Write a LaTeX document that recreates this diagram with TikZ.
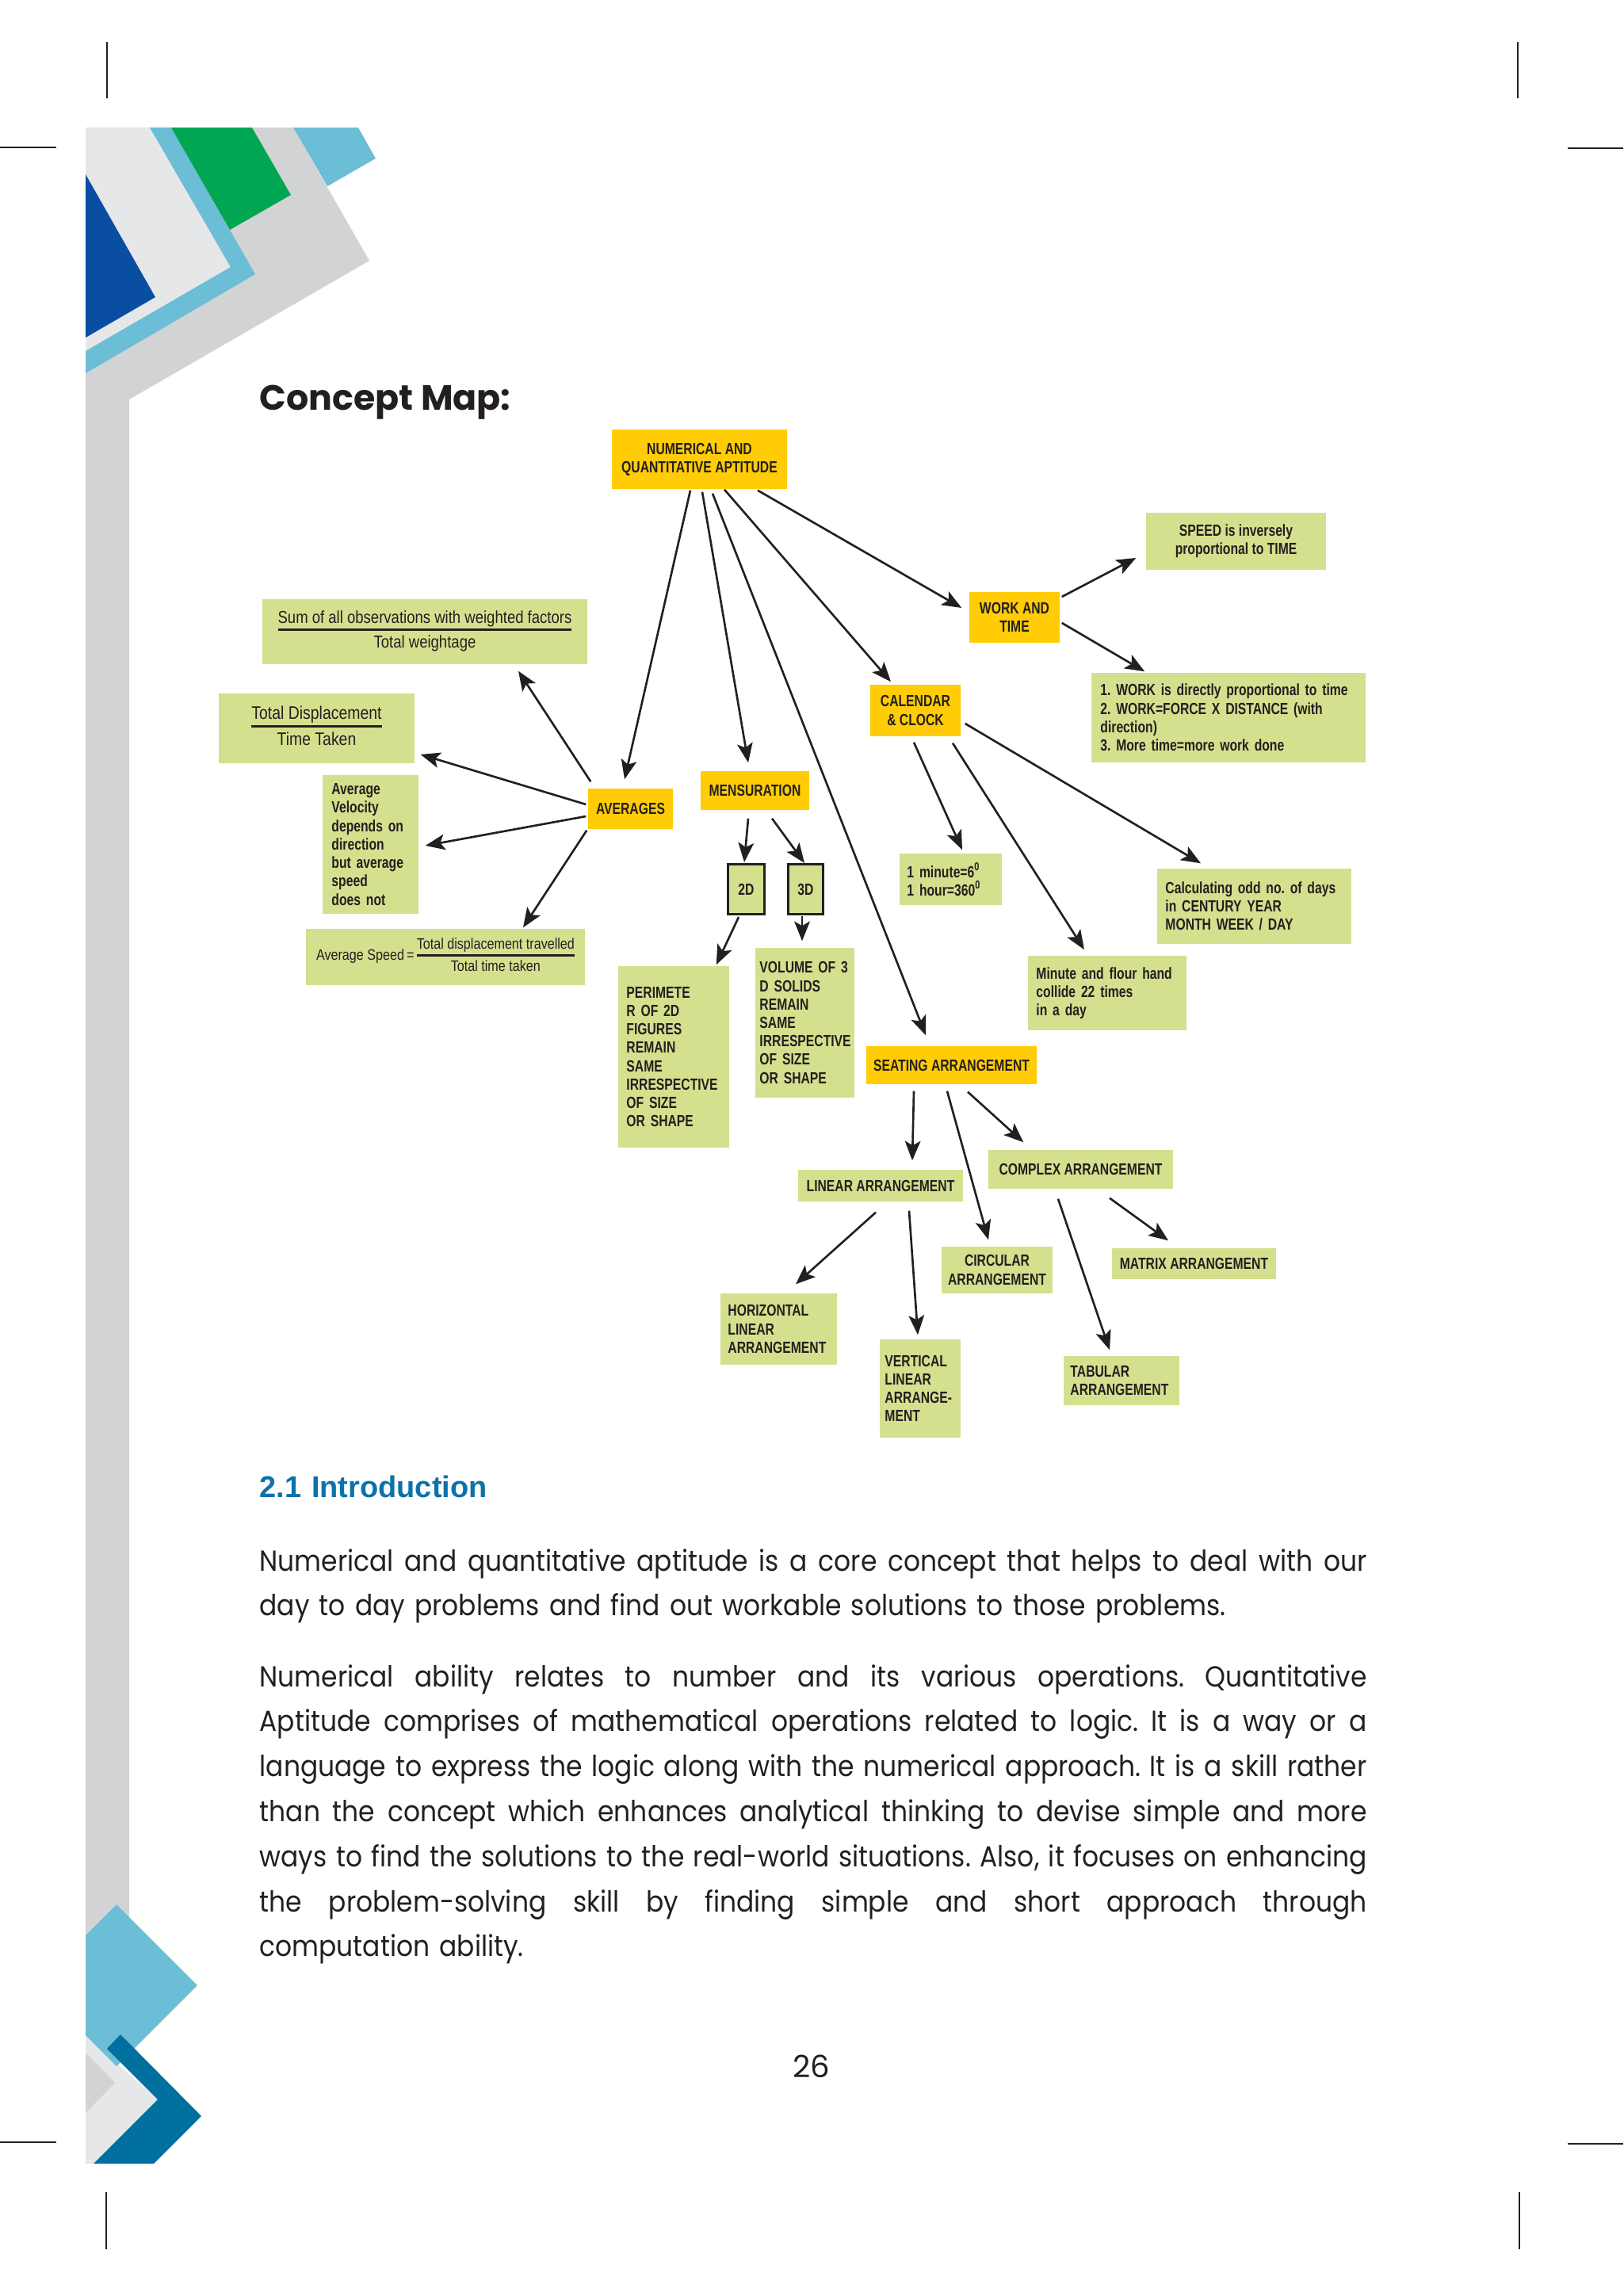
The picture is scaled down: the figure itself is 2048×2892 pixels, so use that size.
\documentclass[tikz,border=0pt]{standalone}
\usepackage{fontspec}
\setmainfont{Poppins}
\newfontfamily\condb[FakeStretch=0.77]{Liberation Sans}
\newfontfamily\condr[FakeStretch=0.85]{Liberation Sans}
\newfontfamily\bodyfont[FakeStretch=0.9]{Poppins}
\newfontfamily\headfont{Liberation Sans}
\usetikzlibrary{arrows.meta, calc}
\frenchspacing

\definecolor{ink}{HTML}{231F20}
\definecolor{mapyellow}{HTML}{FFCC05}
\definecolor{mapgreen}{HTML}{D5E08E}
\definecolor{headblue}{HTML}{0B72AA}
\definecolor{decogray}{HTML}{D1D3D4}
\definecolor{decolight}{HTML}{E6E7E8}
\definecolor{decosky}{HTML}{6CBDD6}
\definecolor{decogreen}{HTML}{00A652}
\definecolor{decoblue}{HTML}{0A4EA2}
\definecolor{decoteal}{HTML}{00709F}

% fraction with a bar, as in the formula boxes
\newcommand{\mapfrac}[2]{{\setlength{\arrayrulewidth}{0.6pt}\begin{tabular}{@{}c@{}}#1\\\hline\rule{0pt}{1.02em}#2\end{tabular}}}
% a justified line of the body text
\newcommand{\fullline}[1]{{\spaceskip=0pt\xspaceskip=0pt\makebox[13.96cm][s]{#1}}}

\begin{document}
\begin{tikzpicture}[x=0.01cm, y=-0.01cm,
    ybox/.style={fill=mapyellow, text=ink, inner sep=0pt, align=center, font=\condb\bfseries\fontsize{5.8}{6.6}\selectfont},
    gbox/.style={fill=mapgreen, text=ink, inner sep=0pt, align=center, font=\condb\bfseries\fontsize{5.8}{6.6}\selectfont},
    lbox/.style={gbox, align=left},
    arr/.style={-{Stealth[length=7pt, width=5.6pt, inset=1.6pt]}, line width=0.75pt, draw=ink}]
    \useasboundingbox (0,0) rectangle (2048,2892);

    % crop marks
    \draw[ink, line width=0.5pt] (135,53) -- (135,124) (0,186) -- (71,186)
        (1915,53) -- (1915,124) (1978,187) -- (2048,187)
        (0,2703) -- (71,2703) (134,2766) -- (134,2838)
        (1978,2705) -- (2048,2705) (1917,2766) -- (1917,2838);

    % page decoration, top left
    \fill[decogray] (108,161) -- (370,161) -- (466,329) -- (163,504) -- (163,2505) -- (108,2505) -- cycle;
    \fill[decolight] (108,161) -- (189,161) -- (291,337) -- (108,443) -- cycle;
    \fill[decoblue] (108,220) -- (196,375) -- (108,426) -- cycle;
    \fill[decosky] (189,161) -- (216,161) -- (322,346) -- (108,471) -- (108,443) -- (291,337) -- cycle;
    \fill[decogreen] (216,161) -- (318,161) -- (367,246) -- (290,290) -- cycle;
    \fill[decosky] (370,161) -- (452,161) -- (474,200) -- (413,235) -- cycle;

    % page decoration, bottom left
    \fill[decolight] (108,2568) -- (199,2649) -- (118,2730) -- (108,2730) -- cycle;
    \fill[decogray] (108,2590) -- (145,2628) -- (108,2666) -- cycle;
    \fill[decosky] (108,2442) -- (147,2403) -- (249,2505) -- (147,2607) -- (108,2568) -- cycle;
    \fill[decoteal] (135,2585) -- (152,2567) -- (254,2670) -- (194,2730) -- (118,2730) -- (199,2649) -- cycle;

    \node[anchor=base west, inner sep=0pt, text=ink, font=\bfseries\fontsize{12.6}{15}\selectfont] (title) at (327,518) {Concept Map:};

    % concept map
    \node[ybox, minimum width=2.21cm, minimum height=0.75cm] (num) at (882.5,579.5) {NUMERICAL AND\\QUANTITATIVE APTITUDE};
    \node[ybox, minimum width=1.14cm, minimum height=0.64cm] (work) at (1280,779) {WORK AND\\TIME};
    \node[gbox, minimum width=2.27cm, minimum height=0.72cm] (speed) at (1559.5,683) {SPEED is inversely\\proportional to TIME};
    \node[lbox, minimum height=1.13cm, text width=3.23cm, inner xsep=0.115cm] (facts) at (1550,905.5) {1. WORK is directly proportional to time\\2. WORK=FORCE X DISTANCE (with\\direction)\\3. More time=more work done};
    \node[ybox, minimum width=1.14cm, minimum height=0.65cm] (cal) at (1155,896.5) {CALENDAR\\\& CLOCK};
    \node[gbox, minimum width=4.10cm, minimum height=0.82cm, font=\condr\fontsize{6.2}{7}\selectfont] (sum) at (536,797) {\mapfrac{Sum of all observations with weighted factors}{Total weightage}};
    \node[gbox, minimum width=2.47cm, minimum height=0.88cm, font=\condr\fontsize{6.5}{7.4}\selectfont] (disp) at (399.5,919) {\mapfrac{Total Displacement}{Time Taken}};
    \node[lbox, minimum height=1.75cm, text width=0.98cm, inner xsep=0.115cm] (avgvel) at (467.5,1065.5) {Average\\Velocity\\depends on\\direction\\but average\\speed\\does not};
    \node[ybox, minimum width=1.07cm, minimum height=0.51cm] (avg) at (795.5,1020.5) {AVERAGES};
    \node[ybox, minimum width=1.37cm, minimum height=0.49cm] (mens) at (952.5,997.5) {MENSURATION};
    \node[gbox, minimum width=3.52cm, minimum height=0.71cm, font=\condr\fontsize{5.4}{6.2}\selectfont] (avgspeed) at (562,1207.5) {Average Speed\,=\,$\vcenter{\hbox{\mapfrac{Total displacement travelled}{Total time taken}}}$};
    \node[gbox, draw=ink, line width=0.9pt, minimum width=0.46cm, minimum height=0.63cm] (twod) at (941.5,1122) {2D};
    \node[gbox, draw=ink, line width=0.9pt, minimum width=0.44cm, minimum height=0.63cm] (threed) at (1016.5,1122) {3D};
    \node[lbox, minimum height=2.29cm, text width=1.19cm, inner xsep=0.105cm] (perim) at (850,1333.5) {PERIMETE\\R OF 2D\\FIGURES\\REMAIN\\SAME\\IRRESPECTIVE\\OF SIZE\\OR SHAPE};
    \node[lbox, minimum height=1.89cm, text width=1.14cm, inner xsep=0.055cm] (volume) at (1015.5,1290.5) {VOLUME OF 3\\D SOLIDS\\REMAIN\\SAME\\IRRESPECTIVE\\OF SIZE\\OR SHAPE};
    \node[lbox, minimum height=0.65cm, text width=1.10cm, inner xsep=0.095cm] (minute) at (1199.5,1109.5) {1 minute=6\textsuperscript{0}\\1 hour=360\textsuperscript{0}};
    \node[lbox, minimum height=0.94cm, text width=1.79cm, inner xsep=0.105cm] (flour) at (1397,1253) {Minute and flour hand\\collide 22 times\\in a day};
    \node[lbox, minimum height=0.95cm, text width=2.24cm, inner xsep=0.105cm] (calc) at (1582.5,1143.5) {Calculating odd no. of days\\in CENTURY YEAR\\MONTH WEEK / DAY};
    \node[ybox, minimum width=2.15cm, minimum height=0.48cm] (seat) at (1200.5,1344) {SEATING ARRANGEMENT};
    \node[gbox, minimum width=2.08cm, minimum height=0.40cm] (linear) at (1111,1496) {LINEAR ARRANGEMENT};
    \node[gbox, minimum width=2.33cm, minimum height=0.49cm] (complex) at (1363.5,1475.5) {COMPLEX ARRANGEMENT};
    \node[lbox, minimum height=0.90cm, text width=1.28cm, inner xsep=0.095cm] (horiz) at (982.5,1677) {HORIZONTAL\\LINEAR\\ARRANGEMENT};
    \node[lbox, minimum height=1.24cm, text width=0.89cm, inner xsep=0.065cm] (vert) at (1161,1752) {VERTICAL\\LINEAR\\ARRANGE\mbox{-}\\MENT};
    \node[gbox, minimum width=1.40cm, minimum height=0.59cm] (circ) at (1258,1602.5) {CIRCULAR\\ARRANGEMENT};
    \node[gbox, minimum width=2.07cm, minimum height=0.39cm] (matrix) at (1506.5,1594.5) {MATRIX ARRANGEMENT};
    \node[lbox, minimum height=0.62cm, text width=1.29cm, inner xsep=0.085cm] (tabular) at (1415,1742) {TABULAR\\ARRANGEMENT};

    % connectors
    \draw[arr] ($(num.south)+(-11.5,1)$) -- ($(avg.north)+(-7.5,-11)$);
    \draw[arr] ($(num.south)+(3.5,3)$) -- ($(mens.north)+(-8.5,-10)$);
    \draw[arr] ($(num.south)+(16.5,5)$) -- ($(seat.north)+(-32.5,-13)$);
    \draw[arr] ($(num.south)+(31.5,0)$) -- ($(cal.north)+(-31,-3)$);
    \draw[arr] ($(num.south)+(73.5,1)$) -- ($(work.west)+(-9,-12)$);
    \draw[arr] ($(work.east)+(2,-26)$) -- ($(speed.west)+(-12,21)$);
    \draw[arr] ($(work.east)+(2,7)$) -- ($(facts.north west)+(68,-1)$);
    \draw[arr] ($(cal.east)+(5,16.5)$) -- ($(calc.north)+(-67.5,-6)$);
    \draw[arr] ($(cal.south)+(-2,7)$) -- ($(minute.north)+(14.5,-4)$);
    \draw[arr] ($(cal.south)+(47,8)$) -- ($(flour.north)+(-29,-7)$);
    \draw[arr] ($(avg.north west)+(4,-8)$) -- ($(sum.south)+(118,8)$);
    \draw[arr] ($(avg.west)+(-2,-5.5)$) -- ($(disp.east)+(7,33)$);
    \draw[arr] ($(avg.west)+(-2,9.5)$) -- ($(avgvel.east)+(8,1.5)$);
    \draw[arr] ($(avg.south west)+(-1,1)$) -- ($(avgspeed.north)+(98,-1)$);
    \draw[arr] ($(mens.south)+(-8.5,10)$) -- ($(twod.north)+(-2.5,-1)$);
    \draw[arr] ($(mens.south)+(21.5,10)$) -- ($(threed.north)+(-1.5,0)$);
    \draw[arr] ($(twod.south)+(-9.5,2)$) -- ($(perim.north east)+(-17,-1)$);
    \draw[arr] ($(threed.south)+(-4.5,1)$) -- ($(volume.north)+(-3.5,-8)$);
    \draw[arr] ($(seat.south)+(-47.5,8)$) -- ($(linear.north)+(40,-11)$);
    \draw[arr] ($(seat.south)+(-5.5,8)$) -- ($(circ.north)+(-11,-8)$);
    \draw[arr] ($(seat.south)+(20.5,9)$) -- ($(complex.north west)+(45,-9)$);
    \draw[arr] ($(linear.south)+(-6,13)$) -- ($(horiz.north)+(21.5,-11)$);
    \draw[arr] ($(linear.south)+(36,11)$) -- ($(vert.north)+(-3,-5)$);
    \draw[arr] ($(complex.south)+(-28.5,12)$) -- ($(tabular.north)+(-15,-7)$);
    \draw[arr] ($(complex.south)+(36.5,11)$) -- ($(matrix.north)+(-32.5,-9)$);

    % introduction
    \node[anchor=base west, inner sep=0pt, text=headblue, font=\headfont\bfseries\fontsize{10.8}{12}\selectfont] (intro) at (327,1889) {2.1\,\,Introduction};
    \node[anchor=base west, inner sep=0pt, text=ink, text width=13.96cm, align=left, font=\bodyfont\fontsize{10.4}{16.16}\selectfont] (para1) at (327,1982) {%
        \fullline{Numerical and quantitative aptitude is a core concept that helps to deal with our}\\
        day to day problems and find out workable solutions to those problems.};
    \node[anchor=base west, inner sep=0pt, text=ink, text width=13.96cm, align=left, font=\bodyfont\fontsize{10.4}{16.16}\selectfont] (para2) at (327,2128) {%
        \fullline{Numerical ability relates to number and its various operations. Quantitative}\\
        \fullline{Aptitude comprises of mathematical operations related to logic. It is a way or a}\\
        \fullline{language to express the logic along with the numerical approach. It is a skill rather}\\
        \fullline{than the concept which enhances analytical thinking to devise simple and more}\\
        \fullline{ways to find the solutions to the real-world situations. Also, it focuses on enhancing}\\
        \fullline{the problem-solving skill by finding simple and short approach through}\\
        computation ability.};
    \node[anchor=base, inner sep=0pt, text=ink, font=\fontsize{11}{13}\selectfont] (pageno) at (1023.5,2621) {26};
\end{tikzpicture}
\end{document}
